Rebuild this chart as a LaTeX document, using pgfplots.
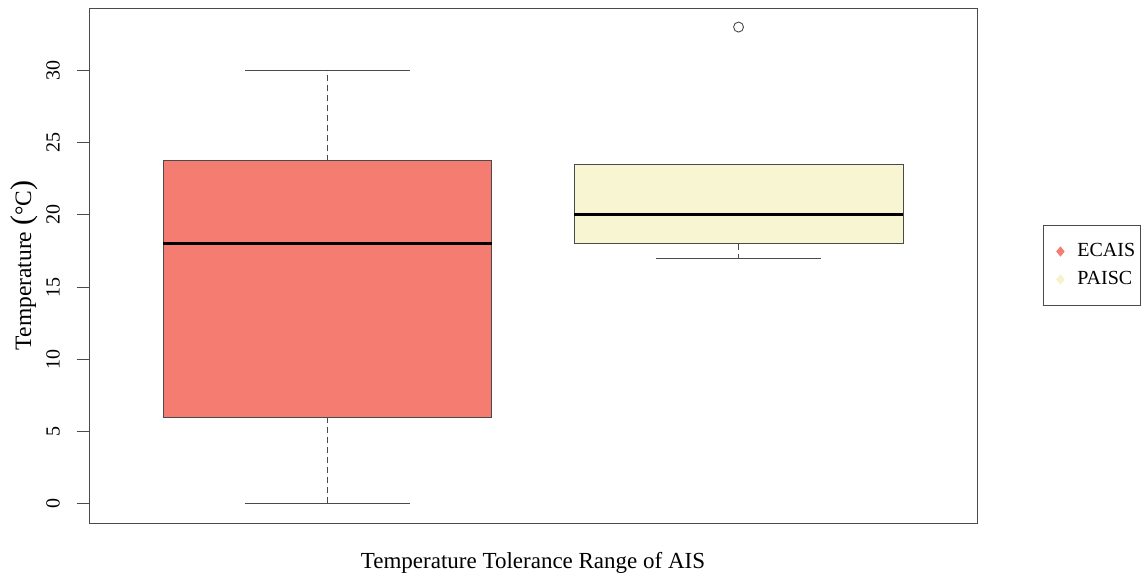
\documentclass[border=0pt]{standalone}
\usepackage{fontspec}
\setmainfont{Liberation Serif}
\usepackage{pgfplots}
\pgfplotsset{compat=1.18}
\usepgfplotslibrary{statistics}

\definecolor{ecais}{HTML}{F57C70}
\definecolor{paisc}{HTML}{F8F5D3}
\definecolor{paiscmark}{HTML}{F7F1CC}
\definecolor{edge}{HTML}{4A4A4A}

\newcommand{\bigparen}[1]{{\fontsize{30}{30}\selectfont #1}}

% filled diamond legend key, 29pt wide cell
\pgfplotsset{
  diamond key/.style={legend image code/.code={%
    \path[draw=none, fill=none] (0pt,-5pt) rectangle (29pt,5pt);
    \fill[#1, draw=none] (14pt,-5.2pt) -- (18.2pt,0pt) -- (14pt,5.2pt) -- (9.8pt,0pt) -- cycle;}},
}

\begin{document}
\begin{tikzpicture}[x=1pt,y=1pt]
\begin{axis}[
  at={(0,0)}, anchor=south west,
  scale only axis, width=888pt, height=515pt,
  xmin=0.42, xmax=2.58, ymin=-1.32, ymax=34.32,
  axis line style={edge, line width=0.9pt},
  xtick=\empty,
  ytick={0,5,10,15,20,25,30},
  ytick pos=left,
  tick align=outside,
  major tick length=12pt,
  tick style={edge, line width=0.9pt},
  /pgf/number format/assume math mode=true,
  yticklabel style={rotate=90, anchor=south, inner sep=0pt,
    font=\fontsize{20}{24}\selectfont},
  yticklabel shift=17pt,
  xlabel={Temperature Tolerance Range of AIS},
  xlabel style={at={(axis description cs:0.5,-0.0777)}, anchor=center,
    font=\fontsize{23}{28}\selectfont},
  ylabel={Temperature \bigparen{(}°C\bigparen{)}},
  ylabel style={at={(axis description cs:-0.0732,0.5)}, anchor=center,
    rotate=0, font=\fontsize{23.5}{28}\selectfont},
  legend entries={ECAIS,PAISC},
  legend style={at={(axis description cs:1.0743,0.5)}, anchor=west,
    draw=edge, line width=0.9pt, inner xsep=3pt, inner ysep=12pt,
    font=\fontsize{20}{24}\selectfont,
    nodes={text height=14pt, text depth=4pt, inner ysep=5pt, inner xsep=2pt},
    row sep=0pt},
  legend cell align=left,
  boxplot/draw direction=y,
  boxplot/every median/.style={draw=black, line width=3pt},
  boxplot/draw/lower whisker/.code={%
    \draw[/pgfplots/boxplot/every whisker/.try, dash pattern=on 6pt off 4pt]
      (boxplot box cs:\pgfplotsboxplotvalue{lower quartile},0.5)
      -- (boxplot box cs:\pgfplotsboxplotvalue{lower whisker},0.5);
    \draw[/pgfplots/boxplot/every whisker/.try]
      (boxplot whisker cs:\pgfplotsboxplotvalue{lower whisker},0)
      -- (boxplot whisker cs:\pgfplotsboxplotvalue{lower whisker},1);
  },
  boxplot/draw/upper whisker/.code={%
    \draw[/pgfplots/boxplot/every whisker/.try, dash pattern=on 6pt off 4pt]
      (boxplot box cs:\pgfplotsboxplotvalue{upper quartile},0.5)
      -- (boxplot box cs:\pgfplotsboxplotvalue{upper whisker},0.5);
    \draw[/pgfplots/boxplot/every whisker/.try]
      (boxplot whisker cs:\pgfplotsboxplotvalue{upper whisker},0)
      -- (boxplot whisker cs:\pgfplotsboxplotvalue{upper whisker},1);
  },
]
% legend keys
\addlegendimage{diamond key=ecais}
\addlegendimage{diamond key=paiscmark}

% ECAIS
\addplot[draw=edge, fill=ecais, line width=0.9pt, mark=o, mark size=5pt,
  boxplot prepared={
    draw position=1,
    lower whisker=0, lower quartile=6, median=18,
    upper quartile=23.75, upper whisker=30,
    box extend=0.8, whisker extend=0.4}]
  coordinates {};

% PAISC, with one outlier at 33
\addplot[draw=edge, fill=paisc, line width=0.9pt, mark=o, mark size=5pt,
  mark options={fill=none},
  boxplot prepared={
    draw position=2,
    lower whisker=17, lower quartile=18, median=20,
    upper quartile=23.5, upper whisker=23.5,
    box extend=0.8, whisker extend=0.4}]
  coordinates {(0,33)};
\end{axis}
\pgfresetboundingbox
\path (-89,-56) rectangle (1052,523);
\end{tikzpicture}
\end{document}
